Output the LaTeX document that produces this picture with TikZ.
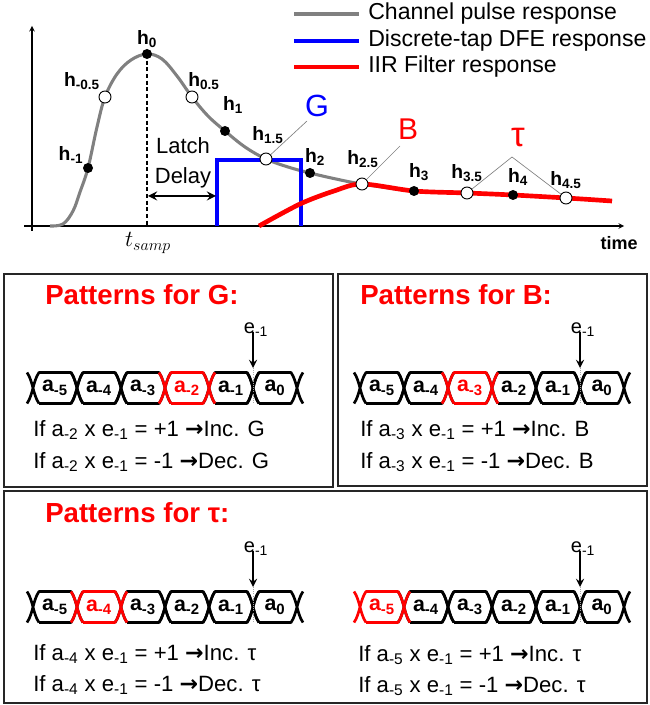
\documentclass[tikz,border=0pt]{standalone}
\usepackage{fontspec}
\setmainfont{Liberation Sans}
\newfontfamily\symfont{DejaVu Sans}
\usetikzlibrary{positioning}

\definecolor{pulsegray}{RGB}{128,128,128}

\tikzset{
  fdot/.style={circle,fill=black,inner sep=0pt,minimum size=7.5pt},
  odot/.style={circle,draw=black,fill=white,line width=0.7pt,inner sep=0pt,minimum size=9pt},
  hlab/.style={inner sep=0pt,font=\bfseries\fontsize{14.5}{17}\selectfont},
  lead/.style={pulsegray,line width=0.5pt},
  bitline/.style={line width=2pt,line join=round},
  bitlab/.style={inner sep=0pt,font=\bfseries\fontsize{16}{18}\selectfont},
  rule/.style={anchor=west,inner sep=0pt,font=\fontsize{16.6}{19}\selectfont},
  title/.style={anchor=west,inner sep=0pt,red,font=\bfseries\fontsize{20.7}{24}\selectfont},
  legtext/.style={anchor=west,inner sep=0pt,font=\fontsize{17.3}{20}\selectfont},
  panel/.style={line width=1.5pt,black!85}
}

% one cell of the data pattern: name, x of left crossing, y of centre, colour, index
\newcommand{\bitcell}[5]{%
  \draw[bitline,#4] (#2-6,#3-15.5) .. controls (#2,#3-7) and (#2,#3+7) .. (#2+6,#3+15.5)
    (#2-6,#3+15.5) .. controls (#2,#3+7) and (#2,#3-7) .. (#2+6,#3-15.5) -- (#2+38,#3-15.5)
      .. controls (#2+44,#3-7) and (#2+44,#3+7) .. (#2+50,#3+15.5)
    (#2+6,#3+15.5) -- (#2+38,#3+15.5)
      .. controls (#2+44,#3+7) and (#2+44,#3-7) .. (#2+50,#3-15.5);
  \node[bitlab,text=#4] (#1) at (#2+22,#3) {a\textsubscript{#5}};
}
% a row of six cells with the error sample: name, x of first crossing, y, red cell
\newcommand{\bitrow}[4]{%
  \foreach \s [count=\i] in {-5,-4,-3,-2,-1,0} {
    \ifnum\i=#4\relax\else\bitcell{#1-a\i}{#2+44*\i-44}{#3}{black}{\s}\fi
  }
  \foreach \s [count=\i] in {-5,-4,-3,-2,-1,0} {
    \ifnum\i=#4\relax\bitcell{#1-a\i}{#2+44*\i-44}{#3}{red}{\s}\fi
  }
  \node[inner sep=0pt,font=\fontsize{15}{17}\selectfont] (#1-e) at (#2+223,#3-58) {e\textsubscript{-1}};
  \coordinate (#1-tip) at (#2+220,#3-20);
  \coordinate (#1-end) at (#2+220,#3+16);
  \draw[->,line width=1.7pt,>=stealth] (#1-e.south -| #1-tip) ++(0,-5) -- (#1-tip);
  \draw[gray!70,densely dotted,line width=0.6pt] (#1-tip) -- (#1-end);
}

\begin{document}
\begin{tikzpicture}[x=0.75pt,y=-0.75pt,>=stealth]
\useasboundingbox (0,0) rectangle (649,705);

% axes
\draw[->,line width=0.8pt] (32,231) -- (32,26);
\draw[->,line width=0.8pt] (24,226) -- (624,226);
\node[inner sep=0pt,font=\bfseries\fontsize{13.5}{16}\selectfont] (time) at (619,243) {time};

% legend
\draw[pulsegray,line width=3pt] (294,14) -- (359,14);
\draw[blue,line width=3pt] (294,41) -- (359,41);
\draw[red,line width=3.3pt] (294,67) -- (359,67);
\node[legtext] (leg1) at (368,14) {Channel pulse response};
\node[legtext] (leg2) at (368,41) {Discrete-tap DFE response};
\node[legtext] (leg3) at (368,67) {IIR Filter response};

% curves
\draw[pulsegray,line width=2.3pt] plot[smooth,tension=0.6] coordinates {(50,226) (63,224) (73,211) (80,192) (88,168) (97,127) (105,97) (117,74) (131,60) (147,54) (162,59) (177,76) (192,97) (208,116) (225,131) (245,147) (266,159) (288,167) (310,173) (336,179) (362,184) (414,191) (467,193) (513,195) (566,198) (612,201)};
\coordinate (dfe0) at (217,226);
\coordinate (dfe1) at (301,160);
\coordinate (dfe2) at (301,226);
\draw[blue,line width=2.3pt] (dfe0) |- (dfe1) -- (dfe2);
\draw[red,line width=3.5pt] plot[smooth,tension=0.5] coordinates {(259,226) (300,204) (334,191) (362,184) (414,191) (467,193) (513,195) (566,198) (612,201)};

% samples
\node[fdot] (hm1) at (88,168) {};
\node[odot] (hm05) at (105,97) {};
\node[fdot] (h0) at (147,54) {};
\node[odot] (h05) at (192,97) {};
\node[fdot] (h1) at (225,131) {};
\node[odot] (h15) at (266,159) {};
\node[fdot] (h2) at (310,173) {};
\node[odot] (h25) at (362,184) {};
\node[fdot] (h3) at (414,191) {};
\node[odot] (h35) at (467,193) {};
\node[fdot] (h4) at (513,195) {};
\node[odot] (h45) at (566,198) {};

\node[hlab] (lm1) at (71,155) {h\textsubscript{-1}};
\node[hlab] (lm05) at (82,81) {h\textsubscript{-0.5}};
\node[hlab] (l0) at (147,39) {h\textsubscript{0}};
\node[hlab] (l05) at (204,81) {h\textsubscript{0.5}};
\node[hlab] (l1) at (233,105) {h\textsubscript{1}};
\node[hlab] (l15) at (268,135) {h\textsubscript{1.5}};
\node[hlab] (l2) at (315,157) {h\textsubscript{2}};
\node[hlab] (l25) at (363,159) {h\textsubscript{2.5}};
\node[hlab] (l3) at (419,172) {h\textsubscript{3}};
\node[hlab] (l35) at (467,173) {h\textsubscript{3.5}};
\node[hlab] (l4) at (518,177) {h\textsubscript{4}};
\node[hlab] (l45) at (566,180) {h\textsubscript{4.5}};

% sampling instant and latch delay
\coordinate (base0) at (147,226);
\draw[line width=1.8pt,dash pattern=on 3pt off 2pt] (h0.center) -- (base0);
\node[inner sep=0pt,font=\fontsize{18}{20}\selectfont] (tsamp) at (148,243) {$t_{samp}$};
\node[inner sep=0pt,font=\fontsize{16.5}{19}\selectfont] (latch) at (183,146) {Latch};
\node[inner sep=0pt,font=\fontsize{16.5}{19}\selectfont,below=9.5pt of latch] (delay) {Delay};
\coordinate (ld0) at (148,196);
\coordinate (ld1) at (216,196);
\draw[<->,line width=2pt] (ld0) -- (ld1);

% parameter labels
\node[inner sep=0pt,blue,font=\fontsize{23}{26}\selectfont] (G) at (317,106) {G};
\node[inner sep=0pt,red,font=\fontsize{22.5}{26}\selectfont] (B) at (408,129) {B};
\node[inner sep=0pt,red,font=\fontsize{26}{28}\selectfont] (tau) at (518,138) {τ};
\coordinate (gtip) at (307,121);
\coordinate (btip) at (400,146);
\coordinate (tapex) at (512,157);
\draw[lead] (h15) -- (gtip);
\draw[lead] (h25) -- (btip);
\draw[lead] (h35) -- (tapex) -- (h45);

% pattern panels
\draw[panel] (4,274) rectangle (333,487);
\draw[panel] (338,274) rectangle (647,486);
\draw[panel] (4,491) rectangle (647,703);

\node[title] (tG) at (45,295) {Patterns for G:};
\bitrow{rG}{33}{388}{4}
\node[rule] (rG1) at (33,430) {If a\textsubscript{-2} x e\textsubscript{-1} = +1 {\symfont\bfseries →}Inc. G};
\node[rule] (rG2) at (33,462) {If a\textsubscript{-2} x e\textsubscript{-1} = -1 {\symfont\bfseries →}Dec. G};

\node[title] (tB) at (360,295) {Patterns for B:};
\bitrow{rB}{360}{388}{3}
\node[rule] (rB1) at (360,430) {If a\textsubscript{-3} x e\textsubscript{-1} = +1 {\symfont\bfseries →}Inc. B};
\node[rule] (rB2) at (360,462) {If a\textsubscript{-3} x e\textsubscript{-1} = -1 {\symfont\bfseries →}Dec. B};

\node[title] (tT) at (45,513) {Patterns for τ:};
\bitrow{rT}{33}{607}{2}
\node[rule] (rT1) at (33,654) {If a\textsubscript{-4} x e\textsubscript{-1} = +1 {\symfont\bfseries →}Inc. τ};
\node[rule] (rT2) at (33,685) {If a\textsubscript{-4} x e\textsubscript{-1} = -1 {\symfont\bfseries →}Dec. τ};
\bitrow{rU}{360}{607}{1}
\node[rule] (rU1) at (358,655) {If a\textsubscript{-5} x e\textsubscript{-1} = +1 {\symfont\bfseries →}Inc. τ};
\node[rule] (rU2) at (358,686) {If a\textsubscript{-5} x e\textsubscript{-1} = -1 {\symfont\bfseries →}Dec. τ};
\end{tikzpicture}
\end{document}
